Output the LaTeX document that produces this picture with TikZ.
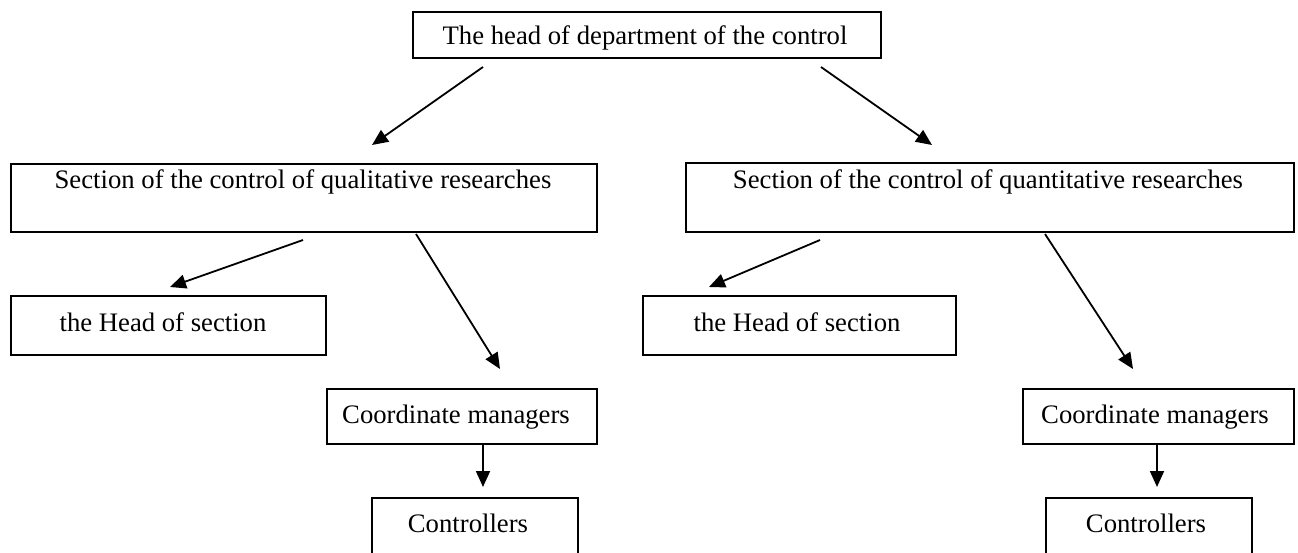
\documentclass[tikz,border=0pt]{standalone}
\usepackage{fontspec}
\setmainfont{Liberation Serif}
\usetikzlibrary{arrows.meta}
\begin{document}
\begin{tikzpicture}[x=1pt,y=-1pt,
  box/.style={draw,line width=1.6pt,inner sep=0pt,anchor=north west},
  lbl/.style={anchor=base,inner sep=0pt,font=\fontsize{26.7}{30}\selectfont},
  arr/.style={line width=1.8pt,-{Triangle[length=16pt,width=14pt]}}]
\useasboundingbox (0,0) rectangle (1298,553);
% boxes
\node[box,minimum width=468pt,minimum height=46pt] (top) at (412,11) {};
\node[box,minimum width=586pt,minimum height=68pt] (secL) at (10,163) {};
\node[box,minimum width=608pt,minimum height=69pt] (secR) at (685,162) {};
\node[box,minimum width=315pt,minimum height=59pt] (headL) at (10,295) {};
\node[box,minimum width=313pt,minimum height=59pt] (headR) at (642,295) {};
\node[box,minimum width=270pt,minimum height=55pt] (coordL) at (326,388) {};
\node[box,minimum width=271pt,minimum height=55pt] (coordR) at (1022,388) {};
\node[box,minimum width=206pt,minimum height=62pt] (ctrlL) at (371,497) {};
\node[box,minimum width=206pt,minimum height=62pt] (ctrlR) at (1045,497) {};
% labels
\node[lbl] (ttop) at (645,45) {The head of department of the control};
\node[lbl] (tsecL) at (303,189) {Section of the control of qualitative researches};
\node[lbl] (tsecR) at (988,189) {Section of the control of quantitative researches};
\node[lbl] (theadL) at (163,331) {the Head of section};
\node[lbl] (theadR) at (797,331) {the Head of section};
\node[lbl] (tcoordL) at (456,423) {Coordinate managers};
\node[lbl] (tcoordR) at (1155,423) {Coordinate managers};
\node[lbl] (tctrlL) at (468,532) {Controllers};
\node[lbl] (tctrlR) at (1146,532) {Controllers};
% connector ends
\coordinate (s1) at (483,67);  \coordinate (e1) at (372,145);
\coordinate (s2) at (821,67);  \coordinate (e2) at (932,145);
\coordinate (s3) at (303,240); \coordinate (e3) at (170,287);
\coordinate (s4) at (416,234); \coordinate (e4) at (500,369);
\coordinate (s5) at (820,240); \coordinate (e5) at (709,287);
\coordinate (s6) at (1045,234); \coordinate (e6) at (1133,369);
\coordinate (e7) at (483,487);
\coordinate (e8) at (1157,487);
\draw[arr] (s1) -- (e1);
\draw[arr] (s2) -- (e2);
\draw[arr] (s3) -- (e3);
\draw[arr] (s4) -- (e4);
\draw[arr] (s5) -- (e5);
\draw[arr] (s6) -- (e6);
\draw[arr] (coordL.south -| e7) -- (e7);
\draw[arr] (coordR.south -| e8) -- (e8);
\end{tikzpicture}
\end{document}
